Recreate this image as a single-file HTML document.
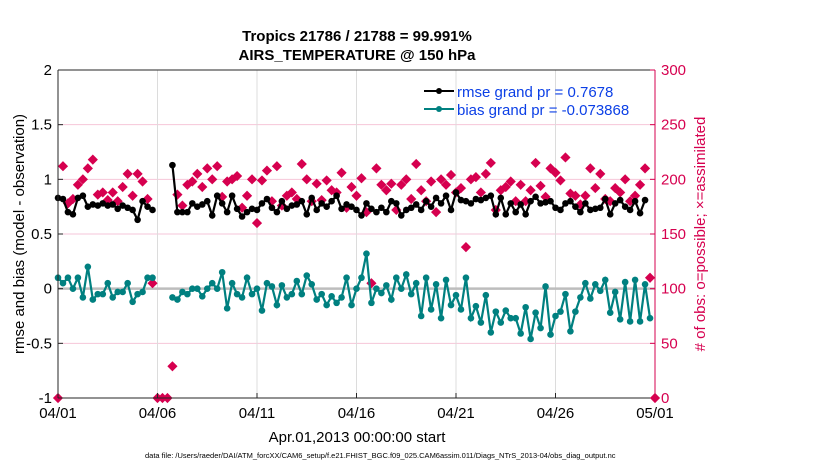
<!DOCTYPE html>
<html><head><meta charset="utf-8"><style>
body{margin:0;background:#fff;}
svg{display:block;font-family:"Liberation Sans",Arial,sans-serif;}
</style></head><body>
<svg id="chart" width="830" height="470" viewBox="0 0 830 470" xmlns="http://www.w3.org/2000/svg">
<g id="grid"></g>
<g id="marks"></g>
<g id="axes"></g>
<text x="357" y="41" text-anchor="middle" font-size="15" font-weight="bold">Tropics 21786 / 21788 = 99.991%</text>
<text x="357" y="60" text-anchor="middle" font-size="15" font-weight="bold">AIRS_TEMPERATURE @ 150 hPa</text>
<text x="357" y="442" text-anchor="middle" font-size="15">Apr.01,2013 00:00:00 start</text>
<text transform="translate(24,234) rotate(-90)" text-anchor="middle" font-size="15">rmse and bias (model - observation)</text>
<text transform="translate(705,234) rotate(-90)" text-anchor="middle" font-size="15" fill="#d6004f"># of obs: o=possible; ×=assimilated</text>
<text x="145" y="458" font-size="7.5">data file: /Users/raeder/DAI/ATM_forcXX/CAM6_setup/f.e21.FHIST_BGC.f09_025.CAM6assim.011/Diags_NTrS_2013-04/obs_diag_output.nc</text>
<g>
<line x1="424" y1="91" x2="454" y2="91" stroke="#000" stroke-width="2"/><circle cx="439" cy="91" r="3" fill="#000"/>
<text x="457" y="97" font-size="15" fill="#0b3fe6">rmse grand pr = 0.7678</text>
<line x1="424" y1="109" x2="454" y2="109" stroke="#008080" stroke-width="2"/><circle cx="439" cy="109" r="3" fill="#008080"/>
<text x="457" y="115" font-size="15" fill="#0b3fe6">bias grand pr = -0.073868</text>
</g>
</svg>
<script>
const rmse=[.83,.82,.70,.68,.83,.85,.75,.77,.76,.78,.76,.77,.73,.76,.74,.72,.63,.80,.75,.72,null,null,null,
1.13,.70,.70,.70,.78,.75,.77,.80,.67,.85,.78,.70,.85,.73,.66,.70,.73,.72,.78,.82,.74,.70,.80,.73,.76,.77,.80,.68,.83,.72,.78,.75,.80,.85,.73,.77,.75,.72,.67,.78,.73,.70,.74,.70,.80,.78,.67,.72,.74,.77,.72,.80,.75,.83,.78,.85,.72,.88,.81,.80,.78,.82,.81,.83,.85,.68,.83,.68,.78,.70,.77,.68,.80,.84,.78,.79,.80,.74,.72,.78,.80,.75,.70,.78,.72,.73,.74,.82,.68,.78,.81,.75,.72,.80,.69,.81];
const bias=[.10,.05,.10,.00,.10,-.08,.20,-.10,-.05,-.05,.05,-.08,-.03,-.03,.05,-.12,-.05,-.03,.10,.10,null,null,null,
-.08,-.10,-.03,-.05,.00,.00,-.07,.00,.05,.00,.15,-.18,.05,-.05,-.08,.10,-.05,.00,-.20,.05,.02,-.15,.03,-.08,-.05,.07,-.05,.12,.04,-.10,-.05,-.15,-.07,-.13,-.08,.10,-.15,.00,.10,.32,
-.13,.00,-.04,.03,-.10,.10,.00,.13,-.05,.05,-.25,.10,-.19,.04,-.27,
.08,-.15,-.06,-.19,.10,-.27,-.16,-.31,-.06,-.40,-.21,-.31,-.20,-.27,-.27,-.41,-.17,-.46,-.22,-.36,.02,-.42,-.25,-.21,-.05,-.39,-.21,-.08,.05,-.09,.04,-.02,.08,-.22,-.03,-.28,.06,-.30,.08,-.30,.04,-.27];
const nobs=[0,212,178,182,195,200,210,218,186,188,181,188,180,193,205,185,205,198,182,105,0,0,0,29,
186,176,195,198,205,193,210,200,212,184,198,200,203,174,185,200,160,199,208,180,212,176,185,188,182,214,200,180,196,181,199,190,188,206,174,193,185,201,170,
105,210,195,190,196,172,195,200,182,214,190,180,198,170,200,195,204,188,192,138,
200,202,188,205,215,172,190,193,198,180,195,180,190,215,194,184,210,206,199,220,187,185,177,185,210,192,205,182,180,192,188,200,180,185,195,210,110,0];
const xTicks=["04/01","04/06","04/11","04/16","04/21","04/26","05/01"];
const yTicksL=[-1,-0.5,0,0.5,1,1.5,2];
const yTicksR=[0,50,100,150,200,250,300];
const X0=58,X1=655,Y0=398,Y1=70;
const xs=d=>X0+(X1-X0)*d/30;
const yL=v=>Y0-(Y0-Y1)*(v+1)/3;
const yR=v=>Y0-(Y0-Y1)*v/300;
const NS="http://www.w3.org/2000/svg";
function mk(p,t,a){const e=document.createElementNS(NS,t);for(const k in a)e.setAttribute(k,a[k]);p.appendChild(e);return e;}
const grid=document.getElementById('grid'),marks=document.getElementById('marks'),axes=document.getElementById('axes');
yTicksR.forEach(v=>{if(v>0&&v<300&&v!==100){const l=mk(grid,'line',{x1:X0,x2:X1,y1:yR(v),y2:yR(v),stroke:'#f6c6d8','stroke-width':1});

}});
xTicks.forEach((t,i)=>{const x=xs(i*5);if(i>0&&i<6){const l=mk(grid,'line',{x1:x,x2:x,y1:Y1,y2:Y0,stroke:'#dcdcdc','stroke-width':1});

}
const tx=mk(axes,'text',{x:x,y:Y0+20,'text-anchor':'middle','font-size':15});tx.textContent=t;


mk(axes,'line',{x1:x,x2:x,y1:Y0,y2:Y0-5,stroke:'#262626'});});
const zl=mk(grid,'line',{x1:X0,x2:X1,y1:yL(0),y2:yL(0),stroke:'#bdbdbd','stroke-width':2.5});


function series(arr,color,name){let d='',pen=false;arr.forEach((v,i)=>{if(v===null){pen=false;return;}d+=(pen?'L':'M')+xs(i/4)+' '+yL(v)+' ';pen=true;});
const p=mk(marks,'path',{d:d,fill:'none',stroke:color,'stroke-width':2.2});


arr.forEach((v,i)=>{if(v===null)return;const c=mk(marks,'circle',{cx:xs(i/4),cy:yL(v),r:3.3,fill:color});

});}
nobs.forEach((v,i)=>{const x=xs(i/4),y=yR(v);const r=mk(marks,'rect',{x:x-3.6,y:y-3.6,width:7.2,height:7.2,fill:'#d6004f',transform:`rotate(45 ${x} ${y})`});

});
series(rmse,'#000','rmse');
series(bias,'#008080','bias');
mk(axes,'line',{x1:X0,x2:X0,y1:Y1,y2:Y0,stroke:'#262626'});
mk(axes,'line',{x1:X0,x2:X1,y1:Y0,y2:Y0,stroke:'#262626'});
mk(axes,'line',{x1:X1,x2:X1,y1:Y1,y2:Y0,stroke:'#d6004f'});
mk(axes,'line',{x1:X0,x2:X1,y1:Y1,y2:Y1,stroke:'#262626'});
yTicksL.forEach(v=>{const y=yL(v);mk(axes,'line',{x1:X0,x2:X0+5,y1:y,y2:y,stroke:'#262626'});
const t=mk(axes,'text',{x:X0-6,y:y+5,'text-anchor':'end','font-size':15});t.textContent=String(v);

});
yTicksR.forEach(v=>{const y=yR(v);mk(axes,'line',{x1:X1,x2:X1-5,y1:y,y2:y,stroke:'#d6004f'});
const t=mk(axes,'text',{x:X1+6,y:y+5,'font-size':15,fill:'#d6004f'});t.textContent=String(v);

});
</script>
</body></html>
